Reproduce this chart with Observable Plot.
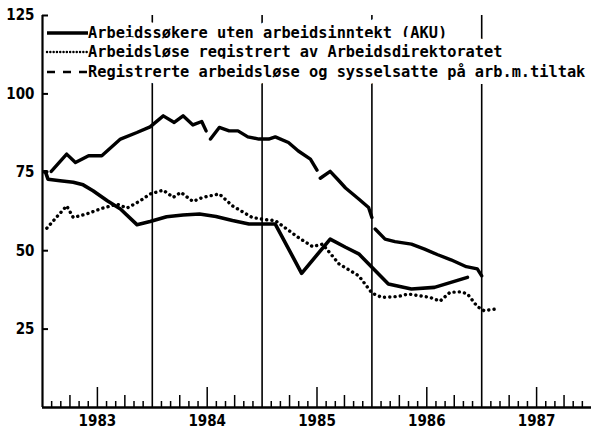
<!DOCTYPE html>
<html><head><meta charset="utf-8">
<script src="https://cdn.jsdelivr.net/npm/d3@7"></script>
<script src="https://cdn.jsdelivr.net/npm/@observablehq/plot@0.6"></script>
<style>body{margin:0;background:#fff}#chart{width:591px;height:440px}</style>
</head><body><div id="chart"></div>
<script>
// ---- data ----
const years = [1983, 1984, 1985, 1986, 1987];
const yearLabels = ["1983", "1984", "1985", "1986", "1987"];
const yTicks = [25, 50, 75, 100, 125];
const seriesNames = [
  "Arbeidssøkere uten arbeidsinntekt (AKU)",
  "Arbeidsløse registrert av Arbeidsdirektoratet",
  "Registrerte arbeidsløse og sysselsatte på arb.m.tiltak"
];
// AKU (solid)
const akuT = [1983.03,1983.05,1983.16,1983.28,1983.37,1983.46,1983.59,1983.71,1983.86,1983.98,1984.13,1984.28,1984.43,1984.58,1984.73,1984.88,1985.12,1985.36,1985.62,1985.76,1985.88,1986.0,1986.15,1986.36,1986.57,1986.72,1986.87];
const akuV = [74.8,72.8,72.3,71.8,71.0,69.1,65.9,63.3,58.3,59.3,60.8,61.4,61.7,60.9,59.6,58.5,58.5,42.8,53.7,51.1,49.0,44.7,39.4,37.8,38.3,39.9,41.5];
// Registered unemployed (dotted)
const regT = [1983.04,1983.22,1983.28,1983.40,1983.55,1983.68,1983.77,1983.89,1983.98,1984.10,1984.19,1984.26,1984.37,1984.46,1984.61,1984.73,1984.91,1985.03,1985.12,1985.33,1985.46,1985.55,1985.70,1985.88,1986.0,1986.09,1986.24,1986.33,1986.42,1986.53,1986.62,1986.71,1986.81,1986.87,1986.96,1987.02,1987.13];
const regV = [57.2,64.3,60.6,61.7,63.6,64.8,63.6,65.9,68.1,69.3,67.0,68.6,65.7,67.0,68.1,64.3,60.6,59.9,59.6,54.2,51.3,52.1,45.8,42.0,36.5,35.1,35.4,36.2,35.7,35.1,33.9,36.7,36.9,36.2,32.2,30.9,31.4];
// Registered + on labour-market measures (dashed; null = gap)
const tilT = [1983.01,1983.04,null,1983.08,1983.22,1983.30,1983.42,1983.54,1983.71,1983.86,1983.98,1984.10,1984.20,1984.28,1984.37,1984.45,1984.49,null,1984.53,1984.61,1984.70,1984.78,1984.87,1984.97,1985.06,1985.12,1985.24,1985.33,1985.44,1985.50,null,1985.53,1985.62,1985.70,1985.76,1985.88,1985.97,1986.0,null,1986.03,1986.12,1986.21,1986.36,1986.48,1986.60,1986.72,1986.86,1986.96,1987.0];
const tilV = [75.2,75.2,null,75.3,80.8,78.1,80.3,80.3,85.6,87.7,89.5,93.0,90.9,93.0,90.1,91.2,88.2,null,85.6,89.3,88.2,88.2,86.3,85.6,85.6,86.3,84.5,81.8,79.2,75.7,null,73.1,75.3,72.3,70.0,66.5,63.8,60.6,null,56.9,53.7,52.9,52.1,50.5,48.7,47.1,44.9,44.2,42.0];

// ---- layout ----
const W = 591, H = 440, mL = 42, mR = 0, mT = 15, mB = 33;
const yMax = 125, xMin = 1983, xMax = 1988;
const pxY = (H - mT - mB) / yMax;
const pxX = (W - mL - mR) / (xMax - xMin);
const tickFont = "'DejaVu Sans Condensed','DejaVu Sans',sans-serif";

const pts = (T, V) => T.map((t, i) => ({t, v: V[i]}));
const aku = pts(akuT, akuV), reg = pts(regT, regV), til = pts(tilT, tilV);

const monthTicks = [];
for (const y of years) for (let k = 1; k < 12; k++) {
  monthTicks.push({t: y + k / 12, len: k === 6 ? 20 : (k % 3 === 0 ? 12 : 6)});
}

const chart = Plot.plot({
  width: W, height: H, marginLeft: mL, marginRight: mR, marginTop: mT, marginBottom: mB,
  x: {domain: [xMin, xMax], label: null},
  y: {domain: [0, yMax], label: null},
  style: {background: "#fff", color: "#000", fontFamily: tickFont},
  marks: [
    // year separators
    Plot.ruleX(years.slice(1), {y1: 0, y2: yMax, stroke: "#000", strokeWidth: 1.6}),
    // month ticks on baseline
    Plot.ruleX(monthTicks, {x: "t", y1: 0, y2: d => d.len / pxY, stroke: "#000", strokeWidth: 1.5}),
    // y axis line and baseline
    Plot.ruleX([xMin], {y1: 0, y2: yMax, stroke: "#000", strokeWidth: 2.2}),
    Plot.ruleY([0], {stroke: "#000", strokeWidth: 2.4}),
    // inward y ticks
    Plot.ruleY(yTicks, {x1: xMin, x2: xMin + 6 / pxX, stroke: "#000", strokeWidth: 2}),
    Plot.axisY({ticks: yTicks, tickSize: 0, tickPadding: 8, tickFormat: d => String(d), label: null,
      fontSize: 15, fontWeight: "bold", fontFamily: tickFont}),
    Plot.axisX({ticks: years.map(y => y + 0.5), tickSize: 0, tickPadding: 8, label: null,
      tickFormat: d => yearLabels[years.indexOf(Math.round(d - 0.5))],
      fontSize: 15, fontWeight: "bold", fontFamily: tickFont}),
    // series
    Plot.line(til, {x: "t", y: "v", stroke: "#000", strokeWidth: 3.4, strokeLinejoin: "round"}),
    Plot.line(aku, {x: "t", y: "v", stroke: "#000", strokeWidth: 3.6, strokeLinejoin: "round"}),
    Plot.line(reg, {x: "t", y: "v", stroke: "#000", strokeWidth: 3.4, strokeDasharray: "0.1,5.2", strokeLinecap: "round"})
  ]
});
document.getElementById("chart").append(chart);

// ---- legend drawn inside the SVG ----
const svg = d3.select(chart);
const lg = svg.append("g").attr("class", "legend").attr("text-anchor", "start");
const rowY = [33, 52, 72];
const styles = [
  {w: 3.4, dash: null, cap: "butt"},
  {w: 2.4, dash: "0.1,3.2", cap: "round"},
  {w: 2.6, dash: "8,8", cap: "butt"}
];
seriesNames.forEach((name, i) => {
  lg.append("text")
    .attr("x", 88).attr("y", rowY[i]).attr("dy", "0.35em")
    .attr("text-anchor", "start")
    .attr("font-family", "'DejaVu Sans Mono',monospace")
    .attr("font-size", 15.3).attr("font-weight", "bold")
    .attr("fill", "#000").attr("stroke", "#fff").attr("stroke-width", 14)
    .attr("stroke-linejoin", "round").attr("paint-order", "stroke")
    .text(name);
});
seriesNames.forEach((name, i) => {
  lg.append("line")
    .attr("x1", 47).attr("x2", 88).attr("y1", rowY[i]).attr("y2", rowY[i])
    .attr("stroke", "#000").attr("stroke-width", styles[i].w)
    .attr("stroke-linecap", styles[i].cap)
    .attr("stroke-dasharray", styles[i].dash);
});
</script>
</body></html>
